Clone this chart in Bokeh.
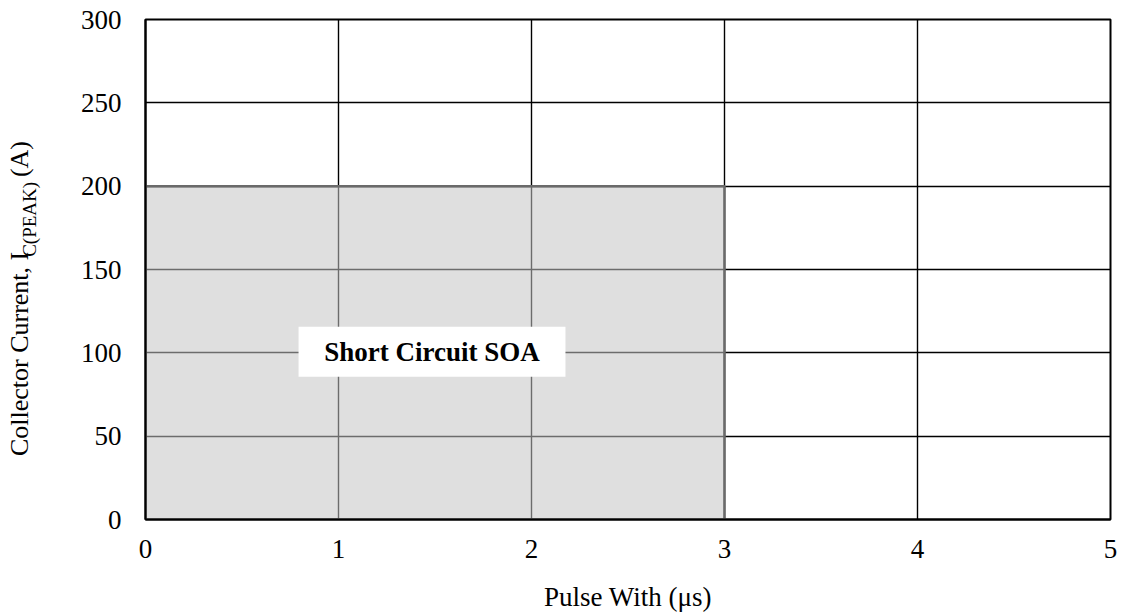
import math
from bokeh.plotting import figure
from bokeh.layouts import row
from bokeh.models import FixedTicker, Label, ColumnDataSource, Range1d
from bokeh.core.properties import value
from bokeh.embed import file_html
from bokeh.resources import INLINE

# ---- data ----
x_ticks = [0, 1, 2, 3, 4, 5]
y_ticks = [0, 50, 100, 150, 200, 250, 300]
soa_pulse_width = [3.0]      # us
soa_peak_current = [200.0]   # A
soa_label = "Short Circuit SOA"
x_title = "Pulse With (\u03bcs)"
y_title_main = "Collector Current, I"
y_title_sub = "C(PEAK)"
y_title_unit = " (A)"

FONT = "Liberation Serif"
FS = "27px"
H = 614
LW = 50

p = figure(width=1120 - LW, height=H, output_backend="svg", toolbar_location=None,
           x_range=Range1d(0, 5), y_range=Range1d(0, 300),
           min_border_left=145 - LW, min_border_right=10, min_border_top=19, min_border_bottom=H - 520)

p.outline_line_color = "black"
p.outline_line_width = 2
p.background_fill_color = "white"

for g in (p.xgrid, p.ygrid):
    g.grid_line_color = "black"
    g.grid_line_width = 1.4
p.xgrid.ticker = FixedTicker(ticks=x_ticks)
p.ygrid.ticker = FixedTicker(ticks=y_ticks)

p.xaxis.ticker = FixedTicker(ticks=x_ticks)
p.yaxis.ticker = FixedTicker(ticks=y_ticks)
for ax in (p.xaxis[0], p.yaxis[0]):
    ax.major_tick_out = 0
    ax.major_tick_in = 0
    ax.minor_tick_out = 0
    ax.minor_tick_in = 0
    ax.axis_line_color = "black"
    ax.axis_line_width = 2
    ax.major_label_text_font = FONT
    ax.major_label_text_font_size = FS
    ax.major_label_text_color = "black"
p.yaxis.major_label_standoff = 24
p.xaxis.major_label_standoff = 20
p.xaxis.axis_label = x_title
p.xaxis.axis_label_text_font = FONT
p.xaxis.axis_label_text_font_size = FS
p.xaxis.axis_label_text_font_style = "normal"
p.xaxis.axis_label_text_color = "black"
p.xaxis.axis_label_standoff = 21

src = ColumnDataSource(dict(left=[0.0], right=soa_pulse_width, bottom=[0.0], top=soa_peak_current))
p.quad(left="left", right="right", bottom="bottom", top="top", source=src,
       fill_color="#c4c4c4", fill_alpha=0.55, line_color="#6a6a6a", line_width=2.5)

# label box
p.quad(left=[0.793], right=[2.176], bottom=[85.6], top=[115.6], fill_color="white", line_color=None)
p.add_layout(Label(x=1.484, y=100.5, text=soa_label, text_font=FONT, text_font_size=FS,
                   text_font_style="bold", text_align="center", text_baseline="middle",
                   text_color="black"))

# y-axis title (with subscript) drawn in a narrow side figure, coordinates in pixels
t = figure(frame_width=LW, frame_height=H, output_backend="svg", toolbar_location=None,
           x_range=Range1d(0, LW), y_range=Range1d(0, H), x_axis_type=None, y_axis_type=None,
           min_border_left=0, min_border_right=0, min_border_top=0, min_border_bottom=0)
t.outline_line_color = None
t.xgrid.visible = False
t.ygrid.visible = False
common = dict(angle=math.pi / 2, text_font=value(FONT), text_align="left",
              text_baseline="alphabetic", text_color="black")
t.text(x=[18.5], y=[H - 436.6], text=[y_title_main], text_font_size=value("26px"), **common)
t.text(x=[28.6], y=[H - 237.3], text=[y_title_sub], text_font_size=value("19px"), **common)
t.text(x=[18.5], y=[H - 157.6], text=[y_title_unit], text_font_size=value("26px"), **common)

layout = row(t, p, spacing=0)
open("out.html", "w").write(file_html(layout, INLINE))
